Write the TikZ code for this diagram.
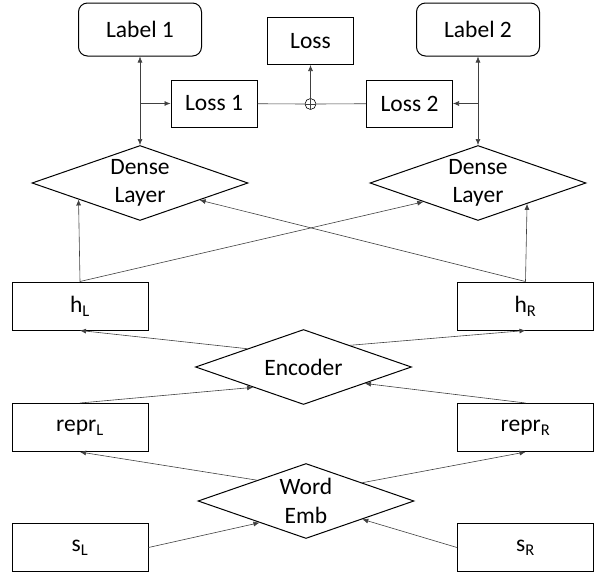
\documentclass[tikz,border=0pt]{standalone}
\usepackage{fontspec}
\setmainfont{Carlito}
\usetikzlibrary{shapes.geometric,arrows.meta}

\begin{document}
\begin{tikzpicture}[x=1pt,y=-1pt,>={Latex[length=6pt,width=5pt]},
    font=\fontsize{23.5}{28.5}\selectfont,
    box/.style={draw,line width=1pt,inner sep=0pt},
    lab/.style={box,rounded corners=9pt,minimum width=123pt,minimum height=53pt},
    lossbox/.style={box,minimum width=86pt,minimum height=47pt},
    vec/.style={box,minimum width=136pt,minimum height=48pt},
    layer/.style={box,diamond,aspect=2.9,align=center,minimum width=216pt,minimum height=75pt},
    wire/.style={draw=black!75,line width=0.6pt}]
  \useasboundingbox (0,0) rectangle (598,576);
  \draw
    (140,29.5) node[lab] (lab1){Label 1}
    (478,29.5) node[lab] (lab2){Label 2}
    (310.5,41) node[lossbox] (loss){Loss}
    (214,103.5) node[lossbox] (loss1){Loss 1}
    (409.5,103.5) node[lossbox] (loss2){Loss 2}
    (310.5,104) node[circle,draw,line width=0.6pt,minimum size=11pt,inner sep=0pt] (plus){}
    (140,183) node[layer] (dl1){Dense\\Layer}
    (478,183) node[layer] (dl2){Dense\\Layer}
    (80,306) node[vec] (hl){h\textsubscript{L}}
    (525.5,306) node[vec] (hr){h\textsubscript{R}}
    (303.5,367) node[layer] (enc){Encoder}
    (80,427.5) node[vec] (rl){repr\textsubscript{L}}
    (525.5,427.5) node[vec] (rr){repr\textsubscript{R}}
    (306,501) node[layer] (emb){Word\\Emb}
    (80,547.5) node[vec] (sl){s\textsubscript{L}}
    (525.5,547.5) node[vec] (sr){s\textsubscript{R}};
  \coordinate (j1) at (lab1.south |- loss1.west);
  \coordinate (j2) at (lab2.south |- loss2.east);
  \begin{scope}[wire]
    \draw[<->] (lab1) to (dl1);
    \draw[<->] (lab2) to (dl2);
    \draw[->] (j1) to (loss1);
    \draw[->] (j2) to (loss2);
    \draw (loss1) to (plus.west);
    \draw (plus.east) to (loss2);
    \draw (plus.north) to (plus.south);
    \draw (plus.west) to (plus.east);
    \draw[->] (plus) to (loss);
    \draw[->] (hl.north) to (dl1.195);
    \draw[->] (hl.north) to (dl2.199);
    \draw[->] (hr.north) to (dl1.-16);
    \draw[->] (hr.north) to (dl2.-23);
    \draw[->] (enc.162) to (hl.south);
    \draw[->] (enc.25) to (hr.south);
    \draw[->] (rl.north) to (enc.202);
    \draw[->] (rr.north) to (enc.-15);
    \draw[->] (emb.157) to (rl.south);
    \draw[->] (emb.18) to (rr.south);
    \draw[->] (sl.east) to (emb.205);
    \draw[->] (sr.west) to (emb.-18);
  \end{scope}
\end{tikzpicture}
\end{document}
